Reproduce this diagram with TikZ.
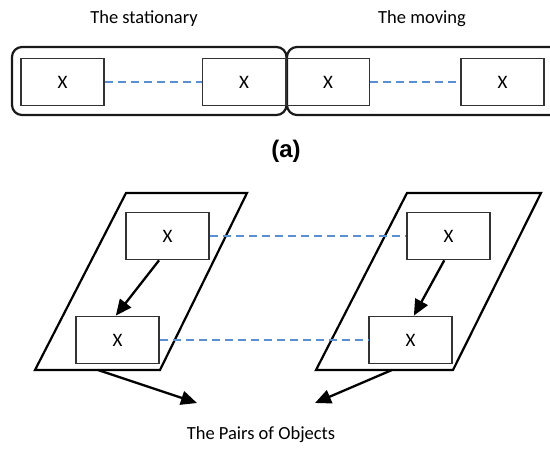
\documentclass[tikz,border=0pt]{standalone}
\usepackage{fontspec}
\setmainfont{Carlito}
\newfontfamily\arialfont{Liberation Sans}
\usetikzlibrary{arrows.meta,calc}
\definecolor{linkblue}{HTML}{5B8FD3}
\definecolor{boxgray}{HTML}{333333}
\tikzset{
  grp/.style={draw=black!90, line width=2.2pt, rounded corners=10pt},
  obj/.style={draw=boxgray, line width=1.7pt, minimum width=83pt, minimum height=47pt, inner sep=0pt, font=\fontsize{19}{22}\selectfont},
  plane/.style={draw=black, line width=2.2pt, line join=miter},
  link/.style={draw=linkblue, line width=1.8pt, dash pattern=on 8pt off 5pt},
  flow/.style={draw=black, line width=2.3pt, -{Triangle[length=16pt,width=14pt]}},
  lbl/.style={font=\fontsize{18.5}{22}\selectfont, inner sep=0pt}
}
\begin{document}
\begin{tikzpicture}[x=1pt,y=-1pt]
\useasboundingbox (0,0) rectangle (550,454);
\clip (0,0) rectangle (550,454);
% (a) top row
\node[lbl] (tstat) at (144,19) {The stationary};
\node[lbl] (tmov) at (422,19) {The moving};
\draw[grp] (12,47) rectangle (286.5,115);
\draw[grp] (287,47) rectangle (565,115);
\node[obj] (a1) at (62.5,82) {X};
\node[obj] (a2) at (244,82) {X};
\node[obj] (a3) at (328,82) {X};
\node[obj] (a4) at (502.5,82) {X};
\draw[link] (a1.east) -- (a2.west);
\draw[link] (a3.east) -- (a4.west);
\node[inner sep=0pt, font=\arialfont\bfseries\fontsize{24}{28}\selectfont] (cap) at (286,151) {(a)};
% (b) planes
\coordinate (lp1) at (126,193);
\coordinate (lp2) at (247,193);
\coordinate (lp3) at (160,370);
\coordinate (lp4) at (35,370);
\draw[plane] (lp1) -- (lp2) -- (lp3) -- (lp4) -- cycle;
\coordinate (rp1) at (407,193);
\coordinate (rp2) at (541,193);
\coordinate (rp3) at (453,370);
\coordinate (rp4) at (316,370);
\draw[plane] (rp1) -- (rp2) -- (rp3) -- (rp4) -- cycle;
\node[obj, fill=white] (tl) at (167.5,236) {X};
\node[obj, fill=white] (bl) at (117.5,340) {X};
\node[obj, fill=white] (tr) at (448.5,236) {X};
\node[obj, fill=white] (br) at (410.5,340) {X};
\draw[link] (tl.east) -- (tr.west);
\draw[link] (bl.east) -- (br.west);
\draw[flow] ($(tl.south west)!0.4!(tl.south east)$) -- ($(bl.north west)!0.48!(bl.north east)$);
\draw[flow] ($(tr.south west)!0.45!(tr.south east)$) -- ($(br.north west)!0.54!(br.north east)$);
\coordinate (lfoot) at (98,370);
\coordinate (rfoot) at (392,370);
\coordinate (ltip) at (197,403);
\coordinate (rtip) at (315,403);
\draw[flow] (lfoot) -- (ltip);
\draw[flow] (rfoot) -- (rtip);
\node[lbl] (pairs) at (261,435) {The Pairs of Objects};
\end{tikzpicture}
\end{document}
